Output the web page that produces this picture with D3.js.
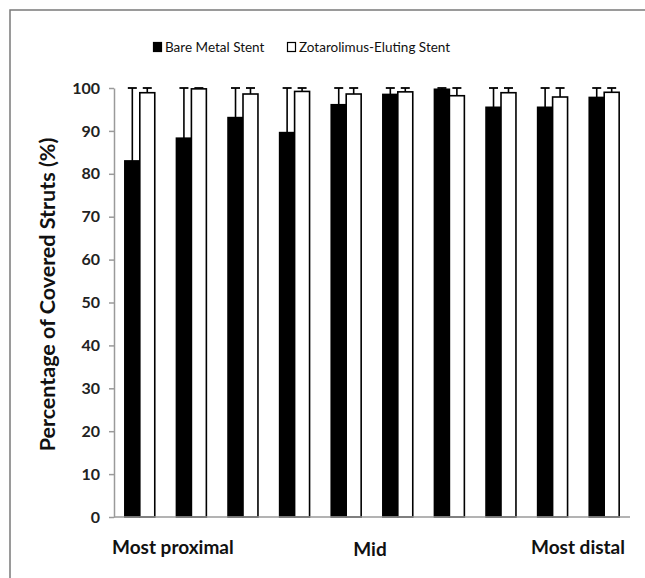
<!DOCTYPE html>
<html lang="en">
<head>
  <meta charset="UTF-8">
  <title>Covered struts</title>
  <script src='https://d3js.org/d3.v7.min.js'></script>
  <style>
    body { margin: 0; background: #fff; }
    text { font-family: Lato, 'Open Sans', sans-serif; }
  </style>
</head>
<body>
</body>
<script>
  const width = 645, height = 578;

  // data (10 segments, proximal -> distal)
  const segments = d3.range(1, 11).map(String);
  const bms = [83.0, 88.3, 93.1, 89.6, 96.1, 98.5, 99.7, 95.5, 95.5, 97.8];
  const bmsErr = [17.0, 11.7, 6.9, 10.4, 3.9, 1.5, 0.3, 4.5, 4.5, 2.2];
  const zes = [98.9, 99.8, 98.6, 99.2, 98.6, 99.1, 98.2, 98.9, 97.9, 99.0];
  const zesErr = [1.1, 0.2, 1.4, 0.8, 1.4, 0.9, 1.8, 1.1, 2.1, 1.0];
  const seriesNames = ['Bare Metal Stent', 'Zotarolimus-Eluting Stent'];
  const yTicks = [0, 10, 20, 30, 40, 50, 60, 70, 80, 90, 100];
  const segmentLabels = ['Most proximal', 'Mid', 'Most distal'];

  const svg = d3.select('body').append('svg').attr('width', width).attr('height', height);

  // outer frame
  svg.append('rect')
    .attr('x', 10).attr('y', 10)
    .attr('width', width + 20).attr('height', height + 20)
    .attr('fill', 'none').attr('stroke', '#7a7a7a').attr('stroke-width', 1.5);

  const margin = {left: 114, right: 15, top: 88, bottom: 61};

  const x = d3.scaleBand().domain(segments)
    .range([margin.left, width - margin.right])
    .paddingInner(0.42).paddingOuter(0.21);
  const inner = d3.scaleBand().domain([0, 1]).range([0, x.bandwidth()]);
  const y = d3.scaleLinear().domain([0, 100]).range([height - margin.bottom, margin.top]);

  // y axis
  const yAxis = svg.append('g')
    .attr('transform', `translate(${margin.left},0)`)
    .call(d3.axisLeft(y).tickValues(yTicks).tickSize(5).tickSizeOuter(0).tickPadding(9));
  yAxis.selectAll('path, line').attr('stroke', '#9a9a9a').attr('stroke-width', 1.5);
  yAxis.selectAll('text')
    .attr('font-size', 16).attr('font-weight', 'bold').attr('fill', '#222')
    .attr('font-family', 'Lato, sans-serif');

  const series = [
    {vals: bms, errs: bmsErr, fill: '#000'},
    {vals: zes, errs: zesErr, fill: '#fff'}
  ];

  series.forEach(function(s, si) {
    const g = svg.append('g');
    const rows = segments.map((c, i) => ({c: c, v: s.vals[i], e: s.errs[i]}));

    // error bars (upper only)
    g.selectAll('line.err').data(rows).join('line')
      .attr('class', 'err')
      .attr('x1', d => x(d.c) + inner(si) + inner.bandwidth() / 2)
      .attr('x2', d => x(d.c) + inner(si) + inner.bandwidth() / 2)
      .attr('y1', d => y(d.v))
      .attr('y2', d => y(d.v + d.e))
      .attr('stroke', '#000').attr('stroke-width', 1.6);
    g.selectAll('line.cap').data(rows).join('line')
      .attr('class', 'cap')
      .attr('x1', d => x(d.c) + inner(si) + inner.bandwidth() / 2 - 4.5)
      .attr('x2', d => x(d.c) + inner(si) + inner.bandwidth() / 2 + 4.5)
      .attr('y1', d => y(d.v + d.e))
      .attr('y2', d => y(d.v + d.e))
      .attr('stroke', '#000').attr('stroke-width', 1.8);

    g.selectAll('rect').data(rows).join('rect')
      .attr('x', d => x(d.c) + inner(si))
      .attr('y', d => y(d.v))
      .attr('width', inner.bandwidth())
      .attr('height', d => y(0) - y(d.v))
      .attr('fill', s.fill)
      .attr('stroke', '#000').attr('stroke-width', 1.6);
  });

  // x axis baseline
  svg.append('line')
    .attr('x1', margin.left).attr('x2', width - margin.right)
    .attr('y1', y(0)).attr('y2', y(0))
    .attr('stroke', '#9a9a9a').attr('stroke-width', 1.5);

  // segment position labels
  const labelY = y(0) + 37;
  svg.append('text').text(segmentLabels[0])
    .attr('x', margin.left - 2).attr('y', labelY)
    .attr('font-size', 19).attr('font-weight', 'bold').attr('fill', '#111');
  svg.append('text').text(segmentLabels[1])
    .attr('x', (x(segments[4]) + x(segments[5]) + x.bandwidth()) / 2 - 2).attr('y', labelY + 2)
    .attr('text-anchor', 'middle')
    .attr('font-size', 19).attr('font-weight', 'bold').attr('fill', '#111');
  svg.append('text').text(segmentLabels[2])
    .attr('x', width - margin.right - 5).attr('y', labelY)
    .attr('text-anchor', 'end')
    .attr('font-size', 19).attr('font-weight', 'bold').attr('fill', '#111');

  // y axis title
  svg.append('text')
    .attr('transform', `translate(55,${(y(0) + y(100)) / 2 - 8}) rotate(-90)`)
    .attr('text-anchor', 'middle')
    .attr('font-size', 21.5).attr('font-weight', 'bold').attr('fill', '#111')
    .text('Percentage of Covered Struts (%)');

  // legend
  const legend = svg.append('g').attr('transform', 'translate(153,48)');
  const legendX = [0, 134];
  seriesNames.forEach(function(name, i) {
    legend.append('rect')
      .attr('x', legendX[i] + 0.5).attr('y', -5.5)
      .attr('width', 8).attr('height', 9)
      .attr('fill', series[i].fill).attr('stroke', '#000').attr('stroke-width', 1.2);
    legend.append('text')
      .attr('x', legendX[i] + 12).attr('y', 4)
      .attr('font-size', 13.5).attr('fill', '#111')
      .text(name);
  });

  console.log('ready..');
</script>
</html>
